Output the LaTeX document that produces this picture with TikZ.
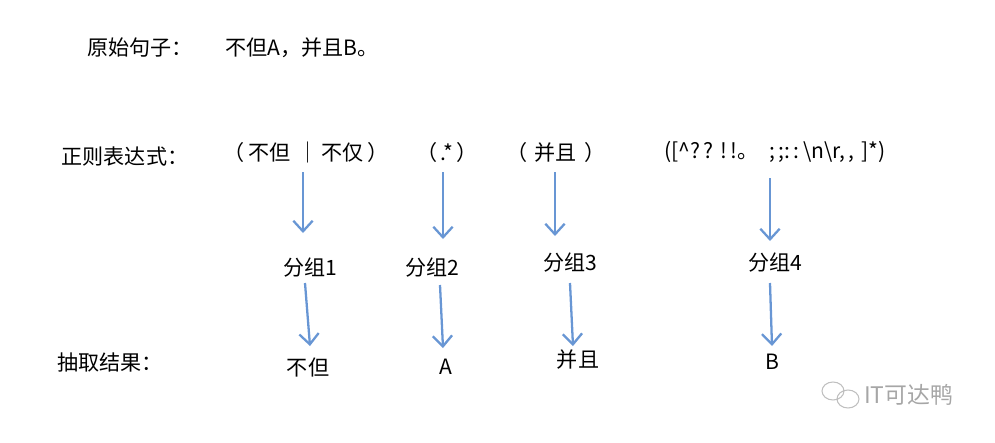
\documentclass[tikz,border=0pt]{standalone}
\usepackage{fontspec}
\setmainfont{Noto Sans CJK SC}
\usetikzlibrary{arrows.meta}
\definecolor{arrblue}{RGB}{104,150,212}
\tikzset{
  txt/.style={inner sep=1pt,font=\fontsize{12}{14}\selectfont},
  arr/.style={draw=arrblue,line width=1.3pt,-{Straight Barb[length=6pt,width=11pt]}},
}
\begin{document}
\begin{tikzpicture}[x=0.02cm,y=-0.02cm]
        \useasboundingbox (0,0) rectangle (995,443);
        % labels on the left
        \node[txt] (lorig) at (140,48) {原始句子：};
        \node[txt] (lregex) at (125,157) {正则表达式：};
        \node[txt] (lres) at (110,362) {抽取结果：};
        \node[txt] (orig) at (302,48) {不但A，并且B。};
        % regex pieces
        \node[txt] (r1) at (306,152) {（\,不但\,\,｜\,不仅\,）};
        \node[txt] (r2) at (447,152) {（\,.*\,）};
        \node[txt] (r3) at (556,152) {（\,\,并且\,\,）};
        \node[txt] (r4) at (775,152) {([\^{}?\,?\,\,!\,!。\,\,\,;\,;:\,:\,\textbackslash n\textbackslash r,\,,\,\,]*)};
        % groups
        \node[txt] (g1) at (310,268) {分组1};
        \node[txt] (g2) at (432,268) {分组2};
        \node[txt] (g3) at (570,263) {分组3};
        \node[txt] (g4) at (775,263) {分组4};
        % results
        \node[txt] (e1) at (308,368) {不但};
        \node[txt] (e2) at (446,367) {A};
        \node[txt] (e3) at (578,360) {并且};
        \node[txt] (e4) at (772,362) {B};
        % arrows
        \coordinate (c1) at (303,172); \coordinate (c2) at (443,172);
        \coordinate (c3) at (555,172); \coordinate (c4) at (770,178);
        \coordinate (d1) at (303,233); \coordinate (d2) at (443,239);
        \coordinate (d3) at (555,236); \coordinate (d4) at (770,241);
        \foreach \i in {1,...,4} \draw[arr] (c\i) -- (d\i);
        \coordinate (s1) at (305,283); \coordinate (s2) at (440,285);
        \coordinate (s3) at (570,283); \coordinate (s4) at (770,283);
        \coordinate (f1) at (310,346); \coordinate (f2) at (443,348);
        \coordinate (f3) at (573,346); \coordinate (f4) at (772,346);
        \foreach \i in {1,...,4} \draw[arr] (s\i) -- (f\i);
        % watermark
        \draw[gray!50,line width=.6pt] (833,391) ellipse (11 and 9) (848,399) ellipse (11 and 9);
        \node[txt,gray!70,font=\fontsize{13}{15}\selectfont,anchor=west] (wm) at (862,395) {IT可达鸭};
\end{tikzpicture}
\end{document}
